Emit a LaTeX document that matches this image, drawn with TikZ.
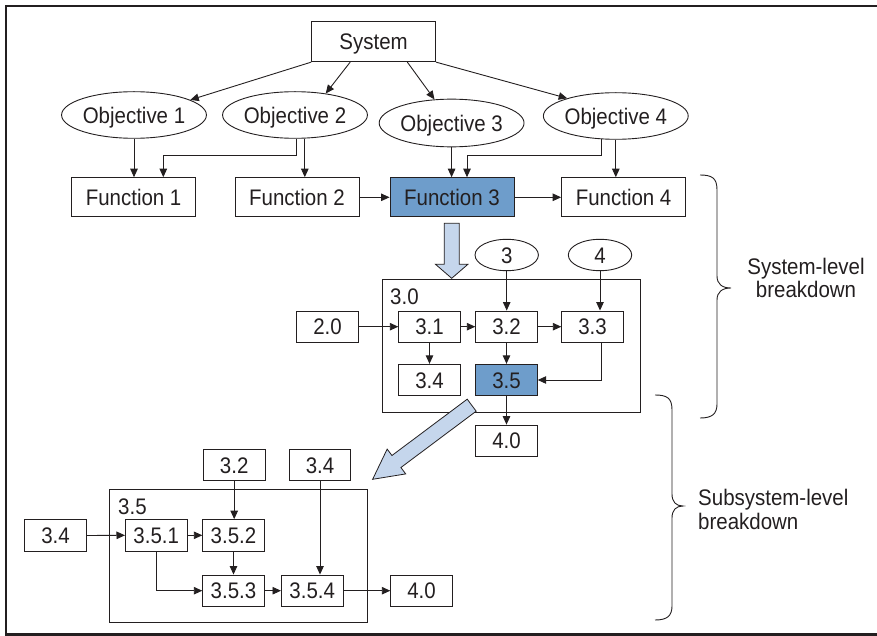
\documentclass[tikz,border=0pt]{standalone}
\usepackage{fontspec}
\setmainfont[FakeStretch=0.91]{Liberation Sans}
\usetikzlibrary{arrows.meta,shapes.geometric,calc}
\definecolor{ink}{HTML}{231F20}
\definecolor{hlblue}{HTML}{6E9DCB}
\definecolor{paleblue}{HTML}{C5D6EC}
\begin{document}
\begin{tikzpicture}[x=1pt,y=-1pt,
  font=\fontsize{22.5}{27}\selectfont, text=ink,
  every node/.style={inner sep=0pt, text height=16.1pt, text depth=0pt},
  fbox/.style={draw=ink, line width=0.9pt, minimum width=124pt, minimum height=39.3pt},
  sbox/.style={draw=ink, line width=0.9pt, minimum width=61.5pt, minimum height=31.4pt},
  obj/.style={draw=ink, ellipse, line width=0.9pt, minimum width=125pt, minimum height=46.6pt},
  sobj/.style={draw=ink, ellipse, line width=0.9pt, minimum width=63.4pt, minimum height=31.4pt},
  group/.style={draw=ink, line width=0.9pt, minimum width=258pt, minimum height=133.4pt},
  hl/.style={fill=hlblue},
  arr/.style={draw=ink, line width=0.9pt, -{Triangle[length=8.5pt,width=7.5pt]}},
  fat/.style={draw=ink, line width=0.8pt, fill=paleblue, line join=miter},
  brace/.style={draw=ink, line width=0.9pt},
  lbl/.style={anchor=base west, text height=, text depth=}
]
\useasboundingbox (0,0) rectangle (877,636);

% outer frame (open on the right)
\draw[ink, line width=2.5pt] (877,6) -- (6,6) -- (6,634.7) -- (877,634.7);

% ---------- system level ----------
\node[fbox, minimum height=40pt] (sys) at (373.6,41.7) {System};

\node[obj] (obj1) at (134,115) {Objective 1};
\node[obj] (obj2) at (295,115) {Objective 2};
\node[obj, minimum height=47.7pt] (obj3) at (451.6,123) {Objective 3};
\node[obj, minimum width=124pt] (obj4) at (615.8,116) {Objective 4};

\node[fbox] (f1) at (133.6,197.3) {Function 1};
\node[fbox] (f2) at (297,197.3) {Function 2};
\node[fbox, hl] (f3) at (452,197.3) {Function 3};
\node[fbox] (f4) at (623.6,197.3) {Function 4};

\draw[arr] (sys.south west) -- (obj1.15);
\draw[arr] ([xshift=39pt]sys.south west) -- (obj2.35);
\draw[arr] ([xshift=-28.7pt]sys.south east) -- (obj3.126);
\draw[arr] (sys.south east) -- (obj4.160);

\draw[arr] (obj1.south) -- (obj1.south |- f1.north);
\draw[arr] ([xshift=1.4pt]obj2.south) -- ++(0,17) -| ([xshift=29.7pt]f1.north);
\draw[arr] ([xshift=9.8pt]obj2.south) -- ([xshift=9.8pt]obj2.south |- f2.north);
\draw[arr] (obj3.south) -- (obj3.south |- f3.north);
\draw[arr] ([xshift=-14.8pt,yshift=0.7pt]obj4.south) -- (601,155) -| ([xshift=15pt]f3.north);
\draw[arr] (obj4.south) -- (obj4.south |- f4.north);

\draw[arr] (f2.east) -- (f3.west);
\draw[arr] (f3.east) -- (f4.west);

% breakdown of function 3
\begin{scope}[shift={(451.7,223.3)}, rotate=-90]
  \draw[fat] (0,-7.5) -- (41,-7.5) -- (41,-16.2) -- (55,0) -- (41,16.2) -- (41,7.5) -- (0,7.5) -- cycle;
\end{scope}

\node[group] (g30) at (511,346) {};
\node[lbl] (g30lbl) at (390,304) {3.0};

\node[sobj] (e3) at (506.7,255) {3};
\node[sobj] (e4) at (600,255) {4};

\node[sbox] (b20) at (327.5,326.7) {2.0};
\node[sbox] (b31) at (429.5,326.7) {3.1};
\node[sbox] (b32) at (506.5,326.7) {3.2};
\node[sbox] (b33) at (592.5,326.7) {3.3};
\node[sbox] (b34) at (429.5,380) {3.4};
\node[sbox, hl] (b35) at (506.5,380) {3.5};
\node[sbox] (b40) at (506.5,440.8) {4.0};

\draw[arr] (e3.south) -- (e3.south |- b32.north);
\draw[arr] (e4.south) -- (e4.south |- b33.north);
\draw[arr] (b20.east) -- (b31.west);
\draw[arr] (b31.east) -- (b32.west);
\draw[arr] (b32.east) -- (b33.west);
\draw[arr] (b31.south) -- (b34.north);
\draw[arr] (b32.south) -- (b35.north);
\draw[arr] ([xshift=9.2pt]b33.south) |- (b35.east);
\draw[arr] (b35.south) -- (b40.north);

% breakdown of 3.5
\begin{scope}[shift={(471.7,405.2)}, rotate=216.8]
  \draw[fat] (0,-7.5) -- (94,-7.5) -- (94,-15.5) -- (123.7,0) -- (94,15.5) -- (94,7.5) -- (0,7.5) -- cycle;
\end{scope}

% ---------- subsystem level ----------
\node[group] (g35) at (238.3,555.7) {};
\node[lbl] (g35lbl) at (118,514) {3.5};

\node[sbox] (c32) at (234.2,465) {3.2};
\node[sbox] (c34t) at (320,465) {3.4};
\node[sbox] (c34l) at (55.5,535.5) {3.4};
\node[sbox] (c351) at (156.2,535.3) {3.5.1};
\node[sbox] (c352) at (233.5,535.3) {3.5.2};
\node[sbox] (c353) at (233.5,590.7) {3.5.3};
\node[sbox] (c354) at (312.2,590.7) {3.5.4};
\node[sbox] (c40) at (421.5,590.7) {4.0};

\draw[arr] (c32.south) -- (c32.south |- c352.north);
\draw[arr] (c34t.south) -- (c34t.south |- c354.north);
\draw[arr] (c34l.east) -- (c351.west);
\draw[arr] (c351.east) -- (c352.west);
\draw[arr] (c352.south) -- (c353.north);
\draw[arr] (c351.south) |- (c353.west);
\draw[arr] (c353.east) -- (c354.west);
\draw[arr] (c354.east) -- (c40.west);

% ---------- braces ----------
\draw[brace] (700,175) .. controls (712,175) and (717,178) .. (717,190)
  -- (717,276) .. controls (717,284) and (722,288) .. (731,288)
  .. controls (722,288) and (717,292) .. (717,300)
  -- (717,404) .. controls (717,414) and (712,418) .. (700,418);
\draw[brace] (655,395) .. controls (667,395) and (672,398) .. (672,410)
  -- (672,494) .. controls (672,502) and (676,506) .. (683,506)
  .. controls (676,506) and (672,510) .. (672,518)
  -- (672,606) .. controls (672,616) and (667,620) .. (655,620);

\node[anchor=base, text height=, text depth=] (sysA) at (806,274) {System-level};
\node[anchor=base, text height=, text depth=] (sysB) at (806,297) {breakdown};
\node[lbl] (subA) at (698,505) {Subsystem-level};
\node[lbl] (subB) at (698,529) {breakdown};
\end{tikzpicture}
\end{document}
